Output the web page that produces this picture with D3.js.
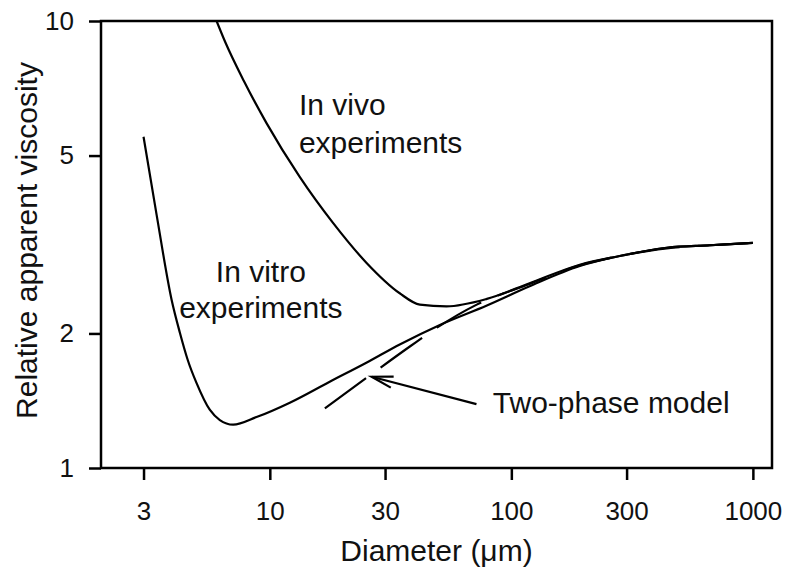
<!DOCTYPE html>
<html>
<head>
<meta charset="utf-8">
<script src="https://cdn.jsdelivr.net/npm/d3@7"></script>
<style>
body { margin: 0; background: #fff; }
svg { display: block; font-family: "Liberation Sans", Arial, Helvetica, sans-serif; }
</style>
</head>
<body>
<script>
// values: diameter (um) -> relative apparent viscosity
var vitroD = [3.0, 3.40, 3.92, 4.24, 4.58, 4.97, 5.64, 6.21, 7.05, 8.81, 12.1, 17.7, 25.1, 34.5, 50.6, 79.2, 119, 192, 281, 440, 664, 1000];
var vitroV = [5.51, 3.68, 2.38, 2.01, 1.74, 1.55, 1.35, 1.28, 1.25, 1.30, 1.40, 1.56, 1.72, 1.89, 2.09, 2.31, 2.55, 2.83, 2.98, 3.11, 3.15, 3.19];

var vivoD = [6.02, 6.55, 7.8, 9.69, 13.3, 18.3, 25.1, 34.5, 41.8, 53.9, 79.2, 119, 192, 281, 440, 664, 1000];
var vivoV = [10, 8.95, 7.35, 5.91, 4.48, 3.53, 2.88, 2.46, 2.32, 2.30, 2.39, 2.59, 2.85, 2.98, 3.11, 3.15, 3.19];

var modelD = [16.9, 25.1, 38.0, 49.2, 71.9, 119, 192, 281, 440, 664, 1000];
var modelV = [1.36, 1.59, 1.87, 2.06, 2.32, 2.58, 2.84, 2.98, 3.10, 3.15, 3.19];

var xTicks = [3, 10, 30, 100, 300, 1000];
var yTicks = [1, 2, 5, 10];

var margin = { top: 21, right: 16, bottom: 112, left: 101 },
	width = 788 - margin.left - margin.right,
	height = 580 - margin.top - margin.bottom;

var svg = d3.select("body").append("svg")
	.attr("width", 788)
	.attr("height", 580);

var g = svg.append("g")
	.attr("transform", "translate(" + margin.left + "," + margin.top + ")");

var x = d3.scaleLog().domain([2, 1200]).range([0, width]);
var y = d3.scaleLog().domain([1, 10]).range([height, 0]);

// axes
var xAxis = g.append("g")
	.attr("transform", "translate(0," + height + ")")
	.call(d3.axisBottom(x).tickValues(xTicks).tickFormat(d3.format("d"))
		.tickSize(12).tickPadding(22).tickSizeOuter(0));

var yAxis = g.append("g")
	.call(d3.axisLeft(y).tickValues(yTicks).tickFormat(d3.format("d"))
		.tickSize(12).tickPadding(15).tickSizeOuter(0));

[xAxis, yAxis].forEach(function (a) {
	a.select(".domain").remove();
	a.selectAll("line").attr("stroke", "#000").attr("stroke-width", 2.5);
	a.selectAll("text").attr("fill", "#111")
		.attr("font-size", 26)
		.attr("font-family", "'Liberation Sans', Arial, sans-serif");
});

// frame
g.append("rect")
	.attr("width", width).attr("height", height)
	.attr("fill", "none").attr("stroke", "#000").attr("stroke-width", 2.5);

g.append("clipPath").attr("id", "plot")
	.append("rect").attr("width", width).attr("height", height);

var line = d3.line()
	.x(function (d) { return x(d[0]); })
	.y(function (d) { return y(d[1]); })
	.curve(d3.curveMonotoneX);

function pairs(ds, vs) { return ds.map(function (d, i) { return [d, vs[i]]; }); }

var curves = g.append("g").attr("clip-path", "url(#plot)")
	.attr("fill", "none").attr("stroke", "#000").attr("stroke-linecap", "butt");

curves.append("path").attr("d", line(pairs(vitroD, vitroV))).attr("stroke-width", 2.2);
curves.append("path").attr("d", line(pairs(vivoD, vivoV))).attr("stroke-width", 2.2);
curves.append("path").attr("d", line(pairs(modelD, modelV)))
	.attr("stroke-width", 2.2).attr("stroke-dasharray", "51,18");

// annotations
var labels = g.append("g").attr("font-size", 30).attr("fill", "#111");

labels.append("text")
	.attr("x", x(13.2)).attr("y", y(6.16))
	.selectAll("tspan").data(["In vivo", "experiments"]).enter().append("tspan")
	.attr("x", x(13.2)).attr("dy", function (d, i) { return i ? 37.5 : 0; })
	.text(function (d) { return d; });

labels.append("text")
	.attr("text-anchor", "middle")
	.attr("x", x(9.18)).attr("y", y(2.61))
	.selectAll("tspan").data(["In vitro", "experiments"]).enter().append("tspan")
	.attr("x", x(9.18)).attr("dy", function (d, i) { return i ? 36 : 0; })
	.text(function (d) { return d; });

labels.append("text")
	.attr("x", x(83.8)).attr("y", y(1.327))
	.text("Two-phase model");

// arrow pointing at the model curve
var tip = [x(26.4), y(1.6)], tail = [x(71.7), y(1.39)];
var ang = Math.atan2(tail[1] - tip[1], tail[0] - tip[0]);
var wing = 22, spread = 15 * Math.PI / 180;
var arrow = g.append("g").attr("stroke", "#000").attr("stroke-width", 2.2).attr("fill", "none");
arrow.append("line")
	.attr("x1", tail[0]).attr("y1", tail[1]).attr("x2", tip[0]).attr("y2", tip[1]);
arrow.append("path")
	.attr("d", "M" + (tip[0] + wing * Math.cos(ang - spread)) + "," + (tip[1] + wing * Math.sin(ang - spread)) +
		"L" + tip[0] + "," + tip[1] +
		"L" + (tip[0] + wing * Math.cos(ang + spread)) + "," + (tip[1] + wing * Math.sin(ang + spread)));

// axis titles
svg.append("text")
	.attr("x", margin.left + width / 2).attr("y", 561)
	.attr("text-anchor", "middle").attr("font-size", 30).attr("fill", "#111")
	.text("Diameter (\u03bcm)");

svg.append("text")
	.attr("transform", "translate(37," + (margin.top + height / 2 - 4) + ") rotate(-90)")
	.attr("text-anchor", "middle").attr("font-size", 30).attr("fill", "#111")
	.text("Relative apparent viscosity");
</script>
</body>
</html>
